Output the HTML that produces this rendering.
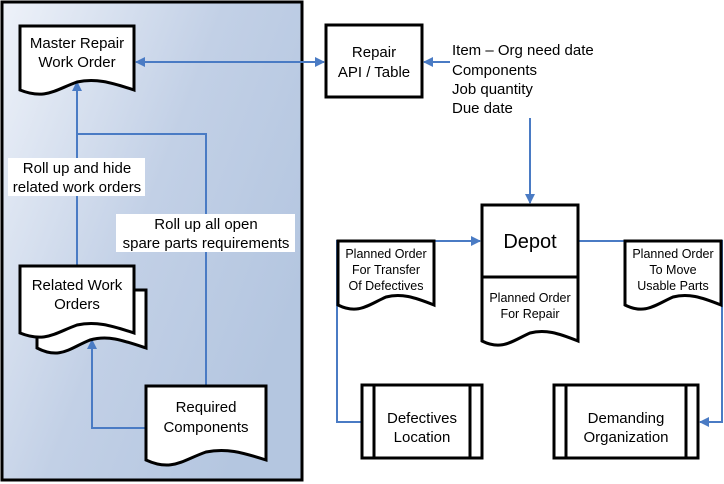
<!DOCTYPE html>
<html><head><meta charset="utf-8"><style>
html,body{margin:0;padding:0;background:#fff;}
svg{display:block;}
text{font-family:"Liberation Sans",Arial,sans-serif;fill:#000;}
</style></head><body>
<svg width="724" height="484" viewBox="0 0 724 484" xmlns="http://www.w3.org/2000/svg">
<defs>
<linearGradient id="g" x1="0" y1="0" x2="1" y2="0.6">
<stop offset="0" stop-color="#eef2f9"/>
<stop offset="0.55" stop-color="#c2d0e6"/>
<stop offset="1" stop-color="#b4c6e0"/>
</linearGradient>
<marker id="ah" markerWidth="10" markerHeight="10" refX="9" refY="5" orient="auto" markerUnits="userSpaceOnUse">
<path d="M0,0 L10,5 L0,10 Z" fill="#4a7bc4"/>
</marker>
</defs>
<rect x="2" y="2" width="300" height="478" fill="url(#g)" stroke="#000" stroke-width="3"/>

<g fill="none" stroke="#4a7bc4" stroke-width="2">
<line x1="320" y1="62" x2="136" y2="62" marker-end="url(#ah)"/>
<line x1="140" y1="62" x2="324" y2="62" marker-end="url(#ah)"/>
<line x1="450" y1="62" x2="424" y2="62" marker-end="url(#ah)"/>
<line x1="77" y1="266" x2="77" y2="82" marker-end="url(#ah)"/>
<polyline points="206,386 206,134 77,134"/>
<polyline points="146,428 92,428 92,340" marker-end="url(#ah)"/>
<line x1="530" y1="118" x2="530" y2="203" marker-end="url(#ah)"/>
<polyline points="362,422 337,422 337,241 480,241" marker-end="url(#ah)"/>
<polyline points="578,241 722,241 722,422 700,422" marker-end="url(#ah)"/>
</g>

<rect x="8" y="158" width="137" height="38" fill="#fff"/>
<text x="77" y="173" font-size="15" text-anchor="middle">Roll up and hide</text>
<text x="77" y="192" font-size="15" text-anchor="middle">related work orders</text>
<rect x="116" y="214" width="179" height="38" fill="#fff"/>
<text x="206" y="229" font-size="15" text-anchor="middle">Roll up all open</text>
<text x="206" y="248" font-size="15" text-anchor="middle">spare parts requirements</text>

<g stroke="#000" stroke-width="3" fill="#fff">
<path d="M20,26 H134 V90 C110,82 95,78 77,82 C55,90 45,100 20,90 Z"/>
<path d="M37,290 H146 V348 C122,340 108,335 90,340 C70,348 60,360 37,348 Z"/>
<path d="M20,266 H134 V333 C110,325 95,321 77,325 C55,333 45,343 20,333 Z"/>
<path d="M146,386 H266 V460 C241,452 226,448 206,452 C183,460 172,472 146,460 Z"/>
<rect x="326" y="25" width="96" height="72"/>
<rect x="482" y="205" width="96" height="72"/>
<path d="M482,277 H578 V341 C558,333 545,329 530,333 C512,341 502,351 482,341 Z"/>
<path d="M338,241 H434 V305 C414,297 401,293 386,297 C368,305 358,315 338,305 Z"/>
<path d="M625,241 H721 V305 C701,297 688,293 673,297 C655,305 645,315 625,305 Z"/>
<rect x="362" y="385" width="120" height="73"/>
<line x1="374" y1="385" x2="374" y2="458"/>
<line x1="470" y1="385" x2="470" y2="458"/>
<rect x="554" y="385" width="144" height="73"/>
<line x1="566" y1="385" x2="566" y2="458"/>
<line x1="686" y1="385" x2="686" y2="458"/>
</g>

<g font-size="15" text-anchor="middle">
<text x="77" y="48">Master Repair</text>
<text x="77" y="67">Work Order</text>
<text x="77" y="290">Related Work</text>
<text x="77" y="309">Orders</text>
<text x="206" y="412">Required</text>
<text x="206" y="432">Components</text>
<text x="374" y="57">Repair</text>
<text x="374" y="77">API / Table</text>
<text x="530" y="248" font-size="20">Depot</text>
<text x="422" y="423">Defectives</text>
<text x="422" y="442">Location</text>
<text x="626" y="423">Demanding</text>
<text x="626" y="442">Organization</text>
</g>
<g font-size="12.5" text-anchor="middle">
<text x="530" y="302">Planned Order</text>
<text x="530" y="318">For Repair</text>
<text x="386" y="258">Planned Order</text>
<text x="386" y="274">For Transfer</text>
<text x="386" y="290">Of Defectives</text>
<text x="673" y="258">Planned Order</text>
<text x="673" y="274">To Move</text>
<text x="673" y="290">Usable Parts</text>
</g>
<g font-size="15">
<text x="452" y="55">Item – Org need date</text>
<text x="452" y="75">Components</text>
<text x="452" y="94">Job quantity</text>
<text x="452" y="113">Due date</text>
</g>
</svg>
</body></html>
